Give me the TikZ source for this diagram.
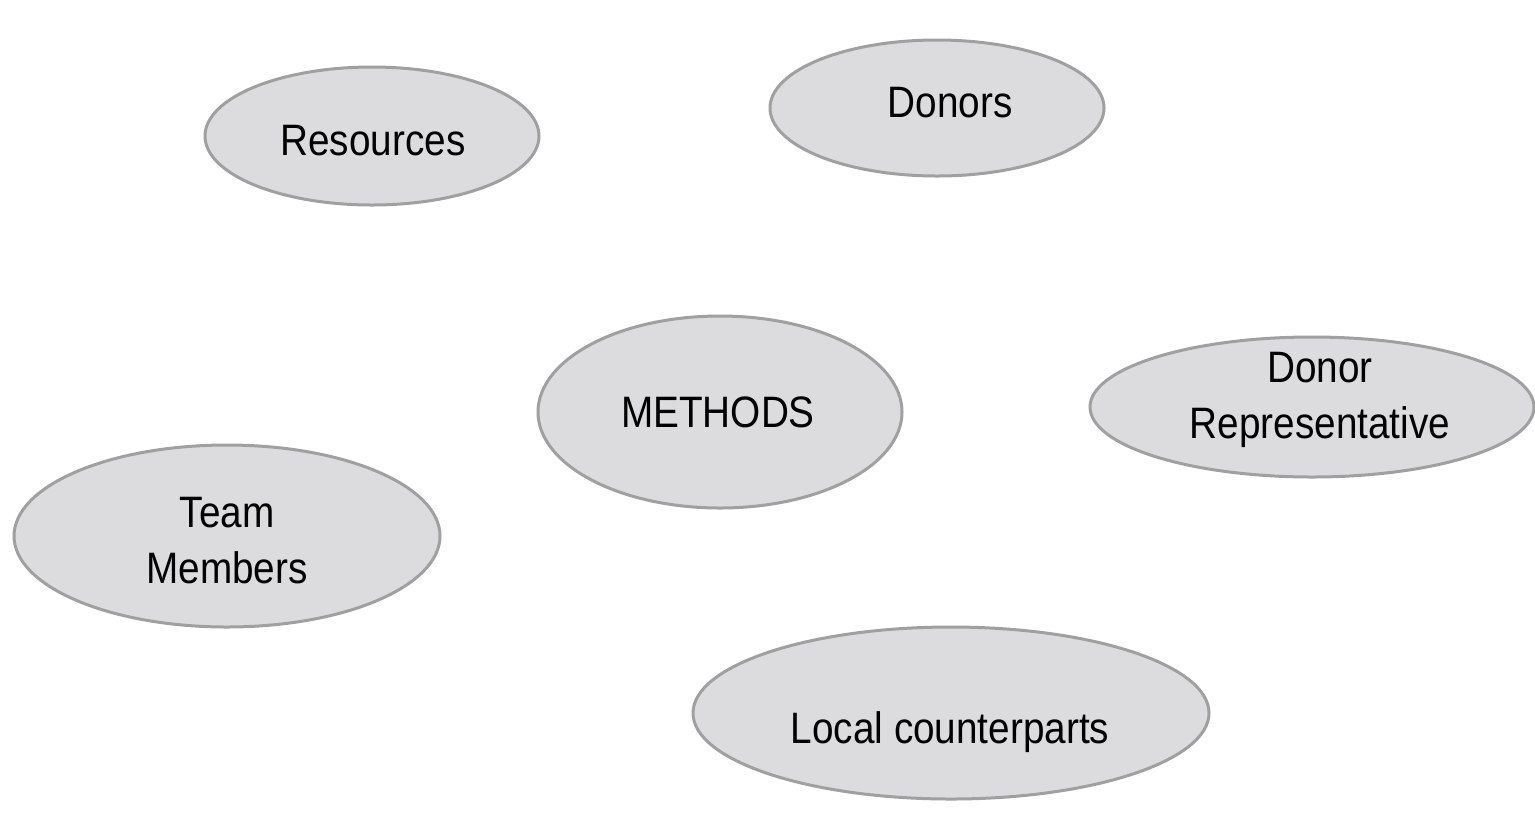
\documentclass[tikz,border=0pt]{standalone}
\usepackage{fontspec}
\setmainfont{Liberation Sans}[FakeStretch=0.88]
\usetikzlibrary{shapes.geometric}
\definecolor{ellfill}{HTML}{DCDCDE}
\definecolor{ellline}{HTML}{A0A0A0}
\begin{document}
\begin{tikzpicture}[x=0.5pt,y=-0.5pt,
  blob/.style={ellipse, draw=ellline, fill=ellfill, line width=1.5pt, inner sep=0pt},
  txt/.style={anchor=base, inner sep=0pt, align=center,
    font=\fontsize{22pt}{28pt}\selectfont, text=black}]
\useasboundingbox (0,0) rectangle (1535,821);
\node[blob, minimum width=167pt, minimum height=69pt] (res) at (372,136) {};
\node[blob, minimum width=167pt, minimum height=68pt] (don) at (937,108) {};
\node[blob, minimum width=182pt, minimum height=96pt] (met) at (720,412) {};
\node[blob, minimum width=222pt, minimum height=70pt] (rep) at (1312,407) {};
\node[blob, minimum width=213pt, minimum height=91pt] (team) at (227,536) {};
\node[blob, minimum width=258pt, minimum height=86pt] (loc) at (951,713) {};
\node[txt] (res-t) at (373,155) {Resources};
\node[txt] (don-t) at (950,117) {Donors};
\node[txt] (met-t) at (718,427) {METHODS};
\node[txt] (rep-t) at (1320,438) {Donor\\Representative};
\node[txt] (team-t) at (227,583) {Team\\Members};
\node[txt] (loc-t) at (950,743) {Local counterparts};
\end{tikzpicture}
\end{document}
